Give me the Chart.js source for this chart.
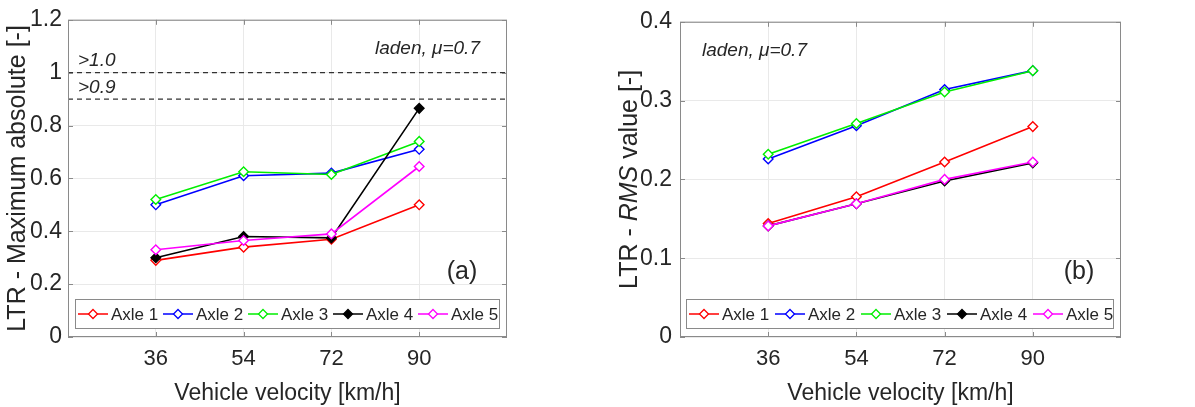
<!DOCTYPE html>
<html>
<head>
<meta charset="utf-8">
<script src="https://cdn.jsdelivr.net/npm/chart.js@4"></script>
<style>
  body { margin: 0; background: #fff; }
  .wrap { display: flex; width: 1195px; height: 407px; }
  .panel { position: relative; height: 407px; }
</style>
</head>
<body>
<div class="wrap">
  <div class="panel" style="width:597px"><canvas id="chartA"></canvas></div>
  <div class="panel" style="width:598px"><canvas id="chartB"></canvas></div>
</div>
<script>
var speeds = [36, 54, 72, 90]
var axleNames = ["Axle 1", "Axle 2", "Axle 3", "Axle 4", "Axle 5"]
var axleColors = ['#ff0000', '#0000ff', '#00ee00', '#000000', '#ff00ff']

// (a) LTR maximum absolute
var maxAxle1 = [0.29, 0.34, 0.37, 0.50]
var maxAxle2 = [0.50, 0.61, 0.62, 0.71]
var maxAxle3 = [0.52, 0.625, 0.615, 0.74]
var maxAxle4 = [0.30, 0.38, 0.375, 0.865]
var maxAxle5 = [0.33, 0.365, 0.39, 0.645]

// (b) LTR RMS value
var rmsAxle1 = [0.144, 0.178, 0.222, 0.267]
var rmsAxle2 = [0.226, 0.268, 0.314, 0.338]
var rmsAxle3 = [0.232, 0.271, 0.311, 0.338]
var rmsAxle4 = [0.141, 0.169, 0.198, 0.221]
var rmsAxle5 = [0.141, 0.169, 0.200, 0.222]

var limitValues = [1.0, 0.9]
var limitLabels = ['>1.0', '>0.9']

var textColor = '#262626'
var boxColor = '#8a8a8a'
var sans = '"Liberation Sans", Arial, sans-serif'

function makeSets(series) {
    return series.map(function (vals, i) {
        return {
            label: axleNames[i],
            data: vals.map(function (v, j) { return { x: speeds[j], y: v } }),
            borderColor: axleColors[i],
            borderWidth: 1.6,
            pointStyle: 'rectRot',
            pointRadius: 4.8,
            pointBorderWidth: 1.4,
            pointBorderColor: axleColors[i],
            pointBackgroundColor: i == 3 ? '#000000' : '#ffffff',
            order: 4 - i
        }
    })
}

function diamond(ctx, x, y, r, stroke, fill) {
    ctx.beginPath()
    ctx.moveTo(x, y - r)
    ctx.lineTo(x + r, y)
    ctx.lineTo(x, y + r)
    ctx.lineTo(x - r, y)
    ctx.closePath()
    ctx.fillStyle = fill
    ctx.fill()
    ctx.lineWidth = 1.3
    ctx.strokeStyle = stroke
    ctx.stroke()
}

var panelPlugin = {
    id: 'panel',
    beforeDatasetsDraw: function (chart, args, o) {
        var ctx = chart.ctx, a = chart.chartArea, ys = chart.scales.y
        ctx.save()
        ;(o.limits || []).forEach(function (v, i) {
            var py = ys.getPixelForValue(v)
            ctx.strokeStyle = '#333'
            ctx.lineWidth = 1.2
            ctx.setLineDash([5, 4])
            ctx.beginPath()
            ctx.moveTo(a.left, py)
            ctx.lineTo(a.right, py)
            ctx.stroke()
            ctx.setLineDash([])
            ctx.fillStyle = textColor
            ctx.font = 'italic 19px ' + sans
            ctx.textBaseline = 'bottom'
            ctx.fillText(o.limitLabels[i], a.left + 10, py - 2)
        })
        ctx.restore()
    },
    afterDraw: function (chart, args, o) {
        var ctx = chart.ctx, a = chart.chartArea
        var xs = chart.scales.x, ys = chart.scales.y
        ctx.save()

        // axes box with inner ticks
        ctx.strokeStyle = boxColor
        ctx.lineWidth = 1
        ctx.strokeRect(a.left + 0.5, a.top + 0.5, a.right - a.left - 1, a.bottom - a.top - 1)
        ctx.beginPath()
        ys.ticks.forEach(function (t) {
            var py = Math.round(ys.getPixelForValue(t.value)) + 0.5
            ctx.moveTo(a.left, py); ctx.lineTo(a.left + 5, py)
            ctx.moveTo(a.right, py); ctx.lineTo(a.right - 5, py)
        })
        xs.ticks.forEach(function (t) {
            var px = Math.round(xs.getPixelForValue(t.value)) + 0.5
            ctx.moveTo(px, a.top); ctx.lineTo(px, a.top + 5)
            ctx.moveTo(px, a.bottom); ctx.lineTo(px, a.bottom - 5)
        })
        ctx.stroke()

        // y title, with italic parts
        ctx.fillStyle = textColor
        ctx.textBaseline = 'middle'
        ctx.textAlign = 'left'
        var total = 0
        o.yTitle.forEach(function (p) {
            ctx.font = (p.italic ? 'italic ' : '') + '25px ' + sans
            total += ctx.measureText(p.text).width
        })
        ctx.save()
        ctx.translate(o.yTitleX, (a.top + a.bottom) / 2)
        ctx.rotate(-Math.PI / 2)
        var cx = -total / 2
        o.yTitle.forEach(function (p) {
            ctx.font = (p.italic ? 'italic ' : '') + '25px ' + sans
            ctx.fillText(p.text, cx, 0)
            cx += ctx.measureText(p.text).width
        })
        ctx.restore()

        // note and panel tag
        ctx.font = 'italic 19px ' + sans
        ctx.textBaseline = 'middle'
        ctx.fillText(o.note, a.left + o.noteDx, a.top + 29)
        ctx.font = '25px ' + sans
        ctx.textAlign = 'center'
        ctx.fillText(o.tag, a.right + o.tagDx, a.bottom - 65)

        // legend box inside the axes
        var lx = a.left + o.legendDx, ly = a.bottom - 38, lw = o.legendW, lh = 29
        ctx.fillStyle = '#fff'
        ctx.fillRect(lx, ly, lw, lh)
        ctx.strokeStyle = boxColor
        ctx.strokeRect(lx + 0.5, ly + 0.5, lw, lh)
        ctx.font = '17px ' + sans
        ctx.textAlign = 'left'
        chart.data.datasets.forEach(function (ds, i) {
            var x0 = lx + 3 + i * o.legendStep, cy = ly + lh / 2 + 0.5
            ctx.strokeStyle = ds.borderColor
            ctx.lineWidth = 1.5
            ctx.beginPath()
            ctx.moveTo(x0, cy); ctx.lineTo(x0 + 30, cy)
            ctx.stroke()
            diamond(ctx, x0 + 15, cy, 4.5, ds.pointBorderColor, ds.pointBackgroundColor)
            ctx.fillStyle = textColor
            ctx.fillText(ds.label, x0 + 33, cy + 1)
        })
        ctx.restore()
    }
}

function makeChart(id, series, yMax, yStep, axisW, tickPad, padRight, pOpts) {
    return new Chart(document.getElementById(id), {
        type: 'line',
        data: { datasets: makeSets(series) },
        plugins: [panelPlugin],
        options: {
            responsive: true,
            maintainAspectRatio: false,
            animation: false,
            layout: { padding: { left: 0, right: padRight, top: 18, bottom: 0 } },
            plugins: {
                legend: { display: false },
                tooltip: { enabled: false },
                panel: pOpts
            },
            scales: {
                x: {
                    type: 'linear',
                    min: 18,
                    max: 108,
                    afterBuildTicks: function (axis) {
                        axis.ticks = speeds.map(function (v) { return { value: v } })
                    },
                    afterFit: function (s) { s.height = 70 },
                    grid: { color: '#e9e9e9', drawTicks: false },
                    border: { display: false },
                    ticks: { color: textColor, padding: 9, font: { size: 22, family: sans } },
                    title: {
                        display: true,
                        text: 'Vehicle velocity [km/h]',
                        color: textColor,
                        padding: { top: 0, bottom: 0 },
                        font: { size: 23, family: sans }
                    }
                },
                y: {
                    min: 0,
                    max: yMax,
                    afterFit: function (s) { s.width = axisW },
                    grid: { color: '#e9e9e9', drawTicks: false },
                    border: { display: false },
                    ticks: {
                        stepSize: yStep,
                        color: textColor,
                        padding: tickPad,
                        font: { size: 23, family: sans },
                        callback: function (v) { return String(+v.toFixed(2)) }
                    }
                }
            }
        }
    })
}

makeChart('chartA', [maxAxle1, maxAxle2, maxAxle3, maxAxle4, maxAxle5], 1.2, 0.2, 68, 6, 90, {
    yTitle: [{ text: 'LTR - Maximum absolute [-]' }],
    yTitleX: 18,
    note: 'laden, \u03bc=0.7',
    noteDx: 307,
    tag: '(a)',
    tagDx: -45,
    limits: limitValues,
    limitLabels: limitLabels,
    legendDx: 7,
    legendW: 424,
    legendStep: 85
})

makeChart('chartB', [rmsAxle1, rmsAxle2, rmsAxle3, rmsAxle4, rmsAxle5], 0.4, 0.1, 83, 8, 74, {
    yTitle: [{ text: 'LTR - ' }, { text: 'RMS', italic: true }, { text: ' value [-]' }],
    yTitleX: 33,
    note: 'laden, \u03bc=0.7',
    noteDx: 22,
    tag: '(b)',
    tagDx: -42,
    legendDx: 6,
    legendW: 427,
    legendStep: 86
})
</script>
</body>
</html>
